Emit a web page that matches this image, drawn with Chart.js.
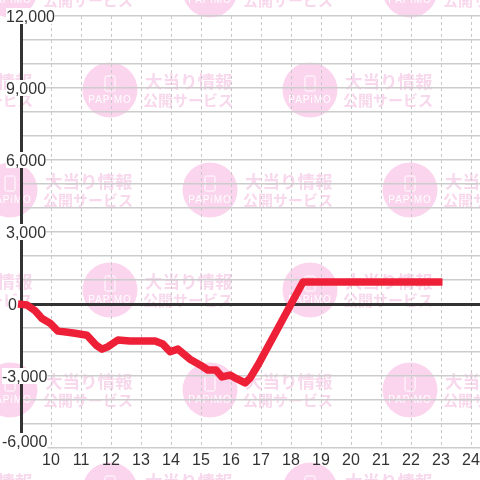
<!DOCTYPE html>
<html>
<head>
<meta charset="utf-8">
<script src="https://cdn.jsdelivr.net/npm/chart.js@4/dist/chart.umd.min.js"></script>
<style>
html, body { margin: 0; padding: 0; background: #fff; }
canvas { display: block; }
</style>
</head>
<body>
<canvas id="zeChart" width="480" height="480"></canvas>
<script>
// hour of day / payout difference
var hours = [8.9, 9.2, 9.47, 9.7, 9.97, 10.23, 10.5, 10.8, 11.2, 11.5, 11.7, 11.9, 12.23, 12.63, 13.47, 13.73, 13.97, 14.23, 14.63, 14.97, 15.23, 15.5, 15.7, 15.97, 16.17, 16.47, 16.63, 16.9, 18.4, 23.05];
var diffs = [0, -40, -280, -600, -800, -1130, -1170, -1220, -1300, -1710, -1880, -1780, -1500, -1540, -1540, -1670, -1990, -1880, -2300, -2540, -2750, -2750, -3040, -2960, -3100, -3290, -3100, -2540, 920, 920];

var yMin = -6000, yMax = 12000, yStep = 1000, yLabelStep = 3000;
var xMin = 9, xMax = 24.3;

var textColor = "#333";
var labelFont = "16px 'Liberation Sans'";

// background stamp, repeats every 200px, rows shifted by 100
function drawStamp(c, x, y) {
    c.fillStyle = "#fbd5ed";
    c.beginPath();
    c.arc(x, y, 27.5, 0, Math.PI * 2);
    c.fill();

    c.strokeStyle = "#fff";
    c.lineWidth = 1;
    c.beginPath();
    c.roundRect(x - 5, y - 14, 10, 15, 1.5);
    c.stroke();

    c.fillStyle = "#fff";
    c.font = "10px 'Liberation Sans'";
    c.letterSpacing = "1px";
    c.textAlign = "center";
    c.textBaseline = "middle";
    c.fillText("PAPiMO", x, y + 10);
    c.letterSpacing = "0px";

    c.fillStyle = "#f8d8ec";
    c.font = "bold 17.5px 'Noto Sans CJK JP'";
    c.textAlign = "left";
    c.fillText("大当り情報", x + 35, y - 9);
    c.font = "bold 15px 'Noto Sans CJK JP'";
    c.fillText("公開サービス", x + 33, y + 10);
}

var watermark = {
    id: "watermark",
    beforeDraw: function (chart) {
        var c = chart.ctx;
        c.save();
        c.fillStyle = "#fff";
        c.fillRect(0, 0, chart.width, chart.height);
        for (var row = 0; row < 6; row++) {
            var y = -10 + row * 100;
            var start = row % 2 ? -90 : 10;
            for (var x = start; x < 520; x += 200) {
                drawStamp(c, x, y);
            }
        }
        c.restore();
    },
};

// y labels sit on top of the axis with a white box behind them
var yLabels = {
    id: "yLabels",
    beforeDatasetsDraw: function (chart) {
        var c = chart.ctx;
        var scale = chart.scales.y;
        c.save();
        c.font = labelFont;
        c.textAlign = "left";
        c.textBaseline = "middle";
        scale.ticks.forEach(function (t) {
            if (t.value % yLabelStep !== 0) return;
            var text = t.value.toLocaleString("en-US");
            var left = t.value < 0 ? 2 : (t.value === 0 ? 8 : 6);
            var y = scale.getPixelForValue(t.value);
            if (t.value === yMin) y -= 7; // bottom label is pushed up
            var w = c.measureText(text).width;
            c.fillStyle = "#fff";
            c.fillRect(left, y - 8, w, 16);
            c.fillStyle = textColor;
            c.fillText(text, left, y + 2);
        });
        c.restore();
    },
};

new Chart(document.getElementById("zeChart"), {
    type: "line",
    plugins: [watermark, yLabels],
    data: {
        datasets: [
            {
                data: hours.map(function (h, i) { return { x: h, y: diffs[i] }; }),
                borderColor: "#ee2038",
                borderWidth: 7.5,
                borderJoinStyle: "round",
                borderCapStyle: "butt",
                pointRadius: 0,
                tension: 0,
                clip: false,
            },
        ],
    },
    options: {
        responsive: false,
        animation: false,
        layout: { autoPadding: false, padding: { left: 21, top: 16, right: -2, bottom: 0 } },
        plugins: {
            legend: { display: false },
            title: { display: false },
            tooltip: { enabled: false },
        },
        scales: {
            x: {
                type: "linear",
                min: xMin,
                max: xMax,
                afterFit: function (scale) {
                    scale.height = 32;
                    scale.paddingLeft = 0;
                    scale.paddingRight = 0;
                },
                ticks: {
                    stepSize: 1,
                    includeBounds: false,
                    autoSkip: false,
                    maxRotation: 0,
                    padding: 3,
                    color: textColor,
                    font: { family: "'Liberation Sans'", size: 16 },
                    callback: function (v) { return v === xMin ? "" : v; },
                },
                grid: { color: "#c8c8c8", lineWidth: 1, drawTicks: false },
                border: { display: false, dash: [3, 3] },
            },
            y: {
                min: yMin,
                max: yMax,
                afterFit: function (scale) { scale.width = 0; },
                ticks: { display: false, stepSize: yStep },
                grid: {
                    drawTicks: false,
                    color: function (ctx) { return ctx.tick.value === 0 ? textColor : "#cccccc"; },
                    lineWidth: function (ctx) { return ctx.tick.value === 0 ? 3 : 1.5; },
                },
                border: { display: true, color: textColor, width: 3 },
            },
        },
    },
});
</script>
</body>
</html>
